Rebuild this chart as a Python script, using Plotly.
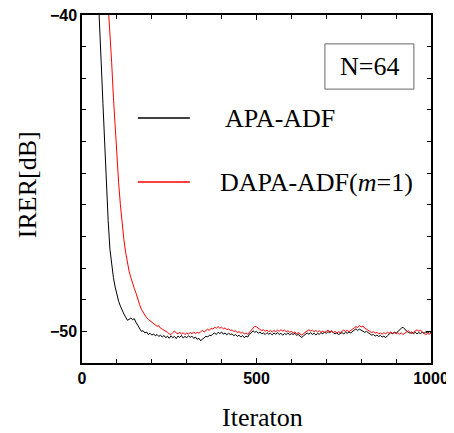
import plotly.graph_objects as go

# ---- data ----
apa_start = 45
apa_step = 5
apa_irer = [
    -39.0, -40.1, -41.5, -42.8, -44.1, -45.3, -46.5, -47.4, -47.9, -48.3,
    -48.6, -48.85, -49.05, -49.2, -49.35, -49.45, -49.55, -49.65, -49.62, -49.58,
    -49.63, -49.6, -49.72, -49.82, -49.9, -50.0, -49.98, -50.05, -50.02, -50.1,
    -50.06, -50.12, -50.08, -50.14, -50.1, -50.16, -50.12, -50.18, -50.13, -50.2,
    -50.15, -50.22, -50.14, -50.2, -50.16, -50.23, -50.15, -50.19, -50.13, -50.21,
    -50.16, -50.2, -50.14, -50.19, -50.15, -50.22, -50.18, -50.25, -50.22, -50.3,
    -50.24, -50.21, -50.15, -50.18, -50.12, -50.14, -50.08, -50.05, -50.1, -50.03,
    -50.07, -50.02, -50.09, -50.05, -50.11, -50.06, -50.1, -50.08, -50.14, -50.1,
    -50.16, -50.12, -50.18, -50.13, -50.2, -50.15, -50.18, -50.08, -50.05, -49.98,
    -50.03, -50.0, -50.06, -50.02, -50.08, -50.05, -50.1, -50.04, -50.09, -50.06,
    -50.11, -50.05, -50.09, -50.04, -50.1, -50.06, -50.12, -50.07, -50.1, -50.05,
    -50.11, -50.07, -50.1, -50.06, -50.13, -50.09, -50.16, -50.19, -50.14, -50.1,
    -50.05, -50.09, -50.04, -50.1, -50.06, -50.11, -50.07, -50.09, -50.04, -50.08,
    -50.02, -50.06, -50.01, -50.05, -49.99, -50.04, -50.08, -50.05, -50.1, -50.07,
    -50.04, -50.08, -50.03, -50.06, -50.02, -50.05, -49.99, -49.96, -49.92, -49.97,
    -49.93, -49.96, -49.99, -50.03, -50.0, -50.05, -50.09, -50.12, -50.1, -50.15,
    -50.12, -50.16, -50.13, -50.18, -50.15, -50.2, -50.14, -50.09, -50.04, -50.08,
    -50.02, -50.06, -50.0, -49.95, -49.9, -49.87, -49.94, -49.99, -50.03, -50.06,
    -50.02, -50.07, -50.03, -50.08, -50.04, -50.07, -50.03, -50.06, -50.02, -50.05,
    -50.01, -50.04,
]
apa_iter = [apa_start + apa_step * i for i in range(len(apa_irer))]

dapa_start = 70
dapa_step = 5
dapa_irer = [
    -38.8, -39.6, -40.4, -41.5, -42.6, -43.6, -44.5, -45.3, -46.0, -46.6,
    -47.1, -47.5, -47.85, -48.1, -48.3, -48.5, -48.65, -48.8, -49.0, -49.15,
    -49.3, -49.4, -49.5, -49.57, -49.62, -49.66, -49.72, -49.75, -49.8, -49.84,
    -49.82, -49.9, -49.93, -49.96, -49.99, -50.03, -50.08, -50.1, -50.04, -49.99,
    -50.05, -50.08, -50.02, -50.09, -50.04, -50.1, -50.05, -50.09, -50.03, -50.08,
    -50.02, -50.07, -50.03, -50.06, -50.01, -49.97, -50.02, -49.96, -49.93, -49.97,
    -49.9, -49.93, -49.87, -49.9, -49.85, -49.9, -49.87, -49.92, -49.89, -49.95,
    -49.92, -49.98, -49.95, -50.01, -49.98, -50.04, -50.01, -50.06, -50.03, -50.08,
    -50.05, -50.09, -50.02, -49.95, -49.88, -49.84, -49.86, -49.9, -49.94, -49.98,
    -49.95, -50.0, -49.96, -50.01, -49.97, -50.02, -49.97, -50.01, -49.96, -50.0,
    -49.95, -49.99, -49.96, -50.01, -49.98, -50.03, -50.0, -50.05, -50.02, -50.07,
    -50.04, -50.09, -50.12, -50.07, -50.03, -49.98, -49.95, -49.99, -49.96, -50.01,
    -49.97, -50.02, -49.98, -50.03, -49.99, -50.04, -50.0, -49.96, -50.02, -49.98,
    -50.04, -50.0, -50.05, -50.01, -50.04, -49.99, -49.96, -50.0, -49.97, -50.01,
    -49.96, -49.92, -49.89, -49.85, -49.88, -49.82, -49.86, -49.83, -49.9, -49.93,
    -49.97, -50.0, -50.04, -50.01, -50.06, -50.03, -50.08, -50.05, -50.09, -50.04,
    -50.08, -50.03, -50.06, -50.02, -50.07, -50.03, -50.08, -50.04, -50.09, -50.05,
    -50.1, -50.06, -50.02, -49.98, -50.03, -50.07, -50.03, -49.99, -49.95, -50.0,
    -49.96, -50.02, -50.07, -50.11, -50.06, -50.09, -50.05,
]
dapa_iter = [dapa_start + dapa_step * i for i in range(len(dapa_irer))]

x_ticks = [0, 500, 1000]
y_ticks = [-50, -40]
y_tick_labels = ["\u221250", "\u221240"]
series_names = ["APA-ADF", "DAPA-ADF(<i>m</i>=1)"]
series_colors = ["#000000", "#ff0000"]
box_label = "N=64"
x_title = "Iteraton"
y_title = "IRER[dB]"

# ---- figure ----
fig = go.Figure()
fig.add_trace(go.Scatter(x=apa_iter, y=apa_irer, mode="lines", name=series_names[0],
                         line=dict(color=series_colors[0], width=1), showlegend=False))
fig.add_trace(go.Scatter(x=dapa_iter, y=dapa_irer, mode="lines", name=series_names[1],
                         line=dict(color=series_colors[1], width=1), showlegend=False))

serif = "Liberation Serif, Times New Roman, serif"
sans = "Liberation Sans, Arial, sans-serif"

axis_common = dict(
    showline=True, linecolor="black", linewidth=1.5, mirror="ticks",
    ticks="inside", ticklen=5, tickwidth=1, tickcolor="black",
    showgrid=False, zeroline=False, automargin=False, ticklabeloverflow="allow",
    tickfont=dict(family=sans, size=16, color="black", weight="bold"),
)

# the page adds an 8px body margin, so the figure is sized to the visible area
fig.update_layout(
    width=446, height=425,
    margin=dict(l=74, r=23, t=7, b=70),
    paper_bgcolor="white", plot_bgcolor="white",
    xaxis=dict(range=[0, 1000], tickvals=x_ticks,
               minor=dict(dtick=100, tick0=0, ticks="inside", ticklen=4, tickcolor="black"),
               **axis_common),
    yaxis=dict(range=[-51, -40], tickvals=y_ticks, ticktext=y_tick_labels,
               minor=dict(dtick=1, tick0=-50, ticks="inside", ticklen=4, tickcolor="black"),
               **axis_common),
)

# axis titles
fig.add_annotation(xref="paper", yref="paper", x=0.516, y=-0.158, text=x_title, showarrow=False,
                   xanchor="center", yanchor="middle",
                   font=dict(family=serif, size=26, color="black"))
fig.add_annotation(xref="paper", yref="paper", x=-0.1576, y=0.514, text=y_title, showarrow=False,
                   xanchor="center", yanchor="middle", textangle=-90,
                   font=dict(family=serif, size=26, color="black"))

# legend drawn inside the plot
legend_y = [0.704, 0.520]
legend_text_x = [0.405, 0.39]
for name, color, ly, tx in zip(series_names, series_colors, legend_y, legend_text_x):
    fig.add_shape(type="line", xref="paper", yref="paper", x0=0.16, x1=0.309, y0=ly, y1=ly,
                  line=dict(color=color, width=1.5))
    fig.add_annotation(xref="paper", yref="paper", x=tx, y=ly, text=name, showarrow=False,
                       xanchor="left", yanchor="middle",
                       font=dict(family=serif, size=26, color="black"))

# N=64 box
fig.add_shape(type="rect", xref="paper", yref="paper", x0=0.696, x1=0.951, y0=0.787, y1=0.917,
              line=dict(color="#666666", width=1), fillcolor="white", layer="above")
fig.add_annotation(xref="paper", yref="paper", x=0.824, y=0.852, text=box_label, showarrow=False,
                   xanchor="center", yanchor="middle",
                   font=dict(family=serif, size=26, color="black"))

fig.write_html("out.html")
